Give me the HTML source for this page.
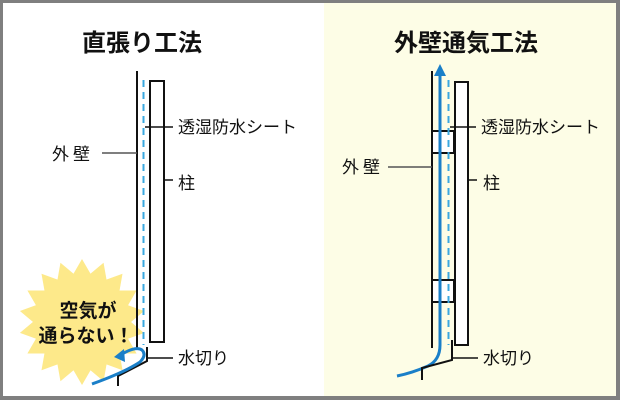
<!DOCTYPE html>
<html><head><meta charset="utf-8"><style>
html,body{margin:0;padding:0;background:#fff}
svg{display:block}
text{font-family:"Liberation Sans","Noto Sans CJK JP",sans-serif;fill:#111}
</style></head><body>
<svg width="620" height="400" viewBox="0 0 620 400">
<defs>
<polygon id="tri" points="0,-63 54.6,31.5 -54.6,31.5" fill="#fde98a"/>
</defs>
<rect x="0" y="0" width="620" height="400" fill="#7f7f7f"/>
<rect x="3" y="3" width="613" height="393" fill="#fff"/>
<rect x="324" y="3" width="292" height="393" fill="#fdfde6"/>

<text x="142" y="51" font-size="24" font-weight="bold" text-anchor="middle">直張り工法</text>
<text x="466" y="51" font-size="24" font-weight="bold" text-anchor="middle">外壁通気工法</text>

<!-- LEFT -->
<g transform="translate(82,322)">
<use href="#tri"/>
<use href="#tri" transform="rotate(20)"/>
<use href="#tri" transform="rotate(40)"/>
<use href="#tri" transform="rotate(60)"/>
<use href="#tri" transform="rotate(80)"/>
<use href="#tri" transform="rotate(100)"/>
<circle r="48" fill="#fde98a"/>
</g>
<text x="88" y="317" font-size="19" font-weight="bold" text-anchor="middle">空気が</text>
<text x="86" y="342" font-size="19" font-weight="bold" text-anchor="middle">通らない！</text>

<line x1="137" y1="71" x2="137" y2="350" stroke="#111" stroke-width="2"/>
<line x1="143.5" y1="80" x2="143.5" y2="345" stroke="#3aa8e0" stroke-width="2" stroke-dasharray="7,5"/>
<rect x="150" y="81" width="14" height="261" fill="#fff" stroke="#111" stroke-width="2"/>
<polyline points="147,347 147,361 118,376 118,386" fill="none" stroke="#111" stroke-width="2"/>
<path d="M92,384 Q125,372 140,362 Q147,355 142,350 Q136,346 122,354" fill="none" stroke="#1a7fc8" stroke-width="3"/>
<polygon points="114,357 124,349 125,362" fill="#1a7fc8"/>

<line x1="102" y1="153" x2="137" y2="153" stroke="#555" stroke-width="1.5"/>
<line x1="145" y1="127" x2="173" y2="127" stroke="#111" stroke-width="1.5"/>
<line x1="164" y1="180" x2="173" y2="180" stroke="#111" stroke-width="1.5"/>
<line x1="147" y1="358" x2="173" y2="358" stroke="#111" stroke-width="1.5"/>
<text x="52" y="160" font-size="17" letter-spacing="4">外壁</text>
<text x="178" y="133" font-size="17">透湿防水シート</text>
<text x="178" y="189" font-size="17">柱</text>
<text x="178" y="364" font-size="17">水切り</text>

<!-- RIGHT -->
<line x1="432" y1="71" x2="432" y2="348" stroke="#111" stroke-width="2"/>
<rect x="432" y="131" width="22" height="22" fill="#fff" stroke="#111" stroke-width="2"/>
<rect x="432" y="280" width="22" height="22" fill="#fff" stroke="#111" stroke-width="2"/>
<line x1="448.5" y1="80" x2="448.5" y2="345" stroke="#3aa8e0" stroke-width="2" stroke-dasharray="7,5"/>
<rect x="455" y="82" width="13" height="263" fill="#fff" stroke="#111" stroke-width="2"/>
<path d="M440,74 L440,345 Q440,360 428,366 Q412,373 397,376" fill="none" stroke="#1a7fc8" stroke-width="3"/>
<polygon points="440,64 434,76 446,76" fill="#1a7fc8"/>
<polyline points="452,340 452,360 422,368 422,380" fill="none" stroke="#111" stroke-width="2"/>

<line x1="388" y1="167" x2="432" y2="167" stroke="#555" stroke-width="1.5"/>
<line x1="450" y1="127" x2="476" y2="127" stroke="#111" stroke-width="1.5"/>
<line x1="468" y1="180" x2="477" y2="180" stroke="#111" stroke-width="1.5"/>
<line x1="452" y1="358" x2="478" y2="358" stroke="#111" stroke-width="1.5"/>
<text x="342" y="173" font-size="17" letter-spacing="4">外壁</text>
<text x="481" y="133" font-size="17">透湿防水シート</text>
<text x="483" y="189" font-size="17">柱</text>
<text x="483" y="364" font-size="17">水切り</text>
</svg>
</body></html>
